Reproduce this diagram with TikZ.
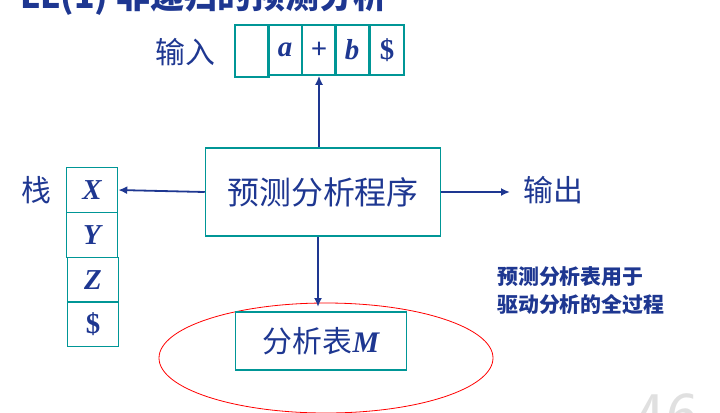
\documentclass[tikz,border=0pt]{standalone}
\usepackage{fontspec}
\setmainfont{Liberation Serif}
\newfontfamily\cjk{Noto Sans CJK SC}
\definecolor{tb}{RGB}{30,55,145}
\definecolor{tl}{RGB}{0,150,150}
\usetikzlibrary{arrows.meta}
\begin{document}
\begin{tikzpicture}[x=1bp,y=-1bp,
  cell/.style={draw=tl,line width=1.5bp,minimum width=34bp,minimum height=45bp,inner sep=0pt,text=tb,font=\bfseries\itshape\fontsize{29}{29}\selectfont},
  lab/.style={text=tb,font=\cjk\fontsize{30}{30}\selectfont,inner sep=0pt},
  arr/.style={draw=tb,line width=1.8bp,-{Latex[length=9bp,width=8bp]}}]
\useasboundingbox (0,0) rectangle (720,412);
\node[lab,font=\cjk\bfseries\fontsize{34}{34}\selectfont,anchor=base west] (title) at (20,8) {LL(1) 非递归的预测分析};
\node[text=black!12,font=\sffamily\fontsize{70}{70}\selectfont,anchor=base west] (num) at (630,440) {46};
% input
\node[lab] (inl) at (185,52) {输入};
\node[cell,minimum height=52bp] (i0) at (252,51) {};
\node[cell,minimum height=50bp] (i1) at (285,50) {a};
\node[cell,minimum height=50bp] (i2) at (319,50) {\upshape +};
\node[cell,minimum height=50bp] (i3) at (352,50) {b};
\node[cell,minimum height=50bp] (i4) at (387,50) {\upshape \$};
% program
\node[draw=tl,line width=1.5bp,minimum width=235bp,minimum height=88bp,lab,font=\cjk\fontsize{32}{32}\selectfont] (prog) at (323,192) {预测分析程序};
% stack
\node[lab] (stl) at (36,190) {栈};
\node[cell,minimum width=51bp] (s1) at (92,190) {X};
\node[cell,minimum width=51bp] (s2) at (92,235) {Y};
\node[cell,minimum width=51bp] (s3) at (93,280) {Z};
\node[cell,minimum width=51bp] (s4) at (93,324) {\upshape \$};
% output
\node[lab] (out) at (553,190) {输出};
% table
\draw[red,line width=0.8bp] (326,358) ellipse [x radius=167, y radius=55];
\node[draw=tl,line width=1.5bp,minimum width=171bp,minimum height=58bp,lab] (tab) at (321,341) {分析表{\rmfamily\bfseries\itshape M}};
\node[text=tb,font=\cjk\bfseries\fontsize{21}{29}\selectfont,align=left,anchor=north west,inner sep=0pt] (note) at (497,266) {预测分析表用于\\驱动分析的全过程};
% arrows
\draw[arr] (prog.north -| i2) -- (i2.south);
\draw[arr] (prog.west) -- (s1.east);
\draw[arr] (prog.east) -- (510,192) coordinate (oe);
\draw[arr] (prog.south -| 318,0) -- (318,307);
\end{tikzpicture}
\end{document}
